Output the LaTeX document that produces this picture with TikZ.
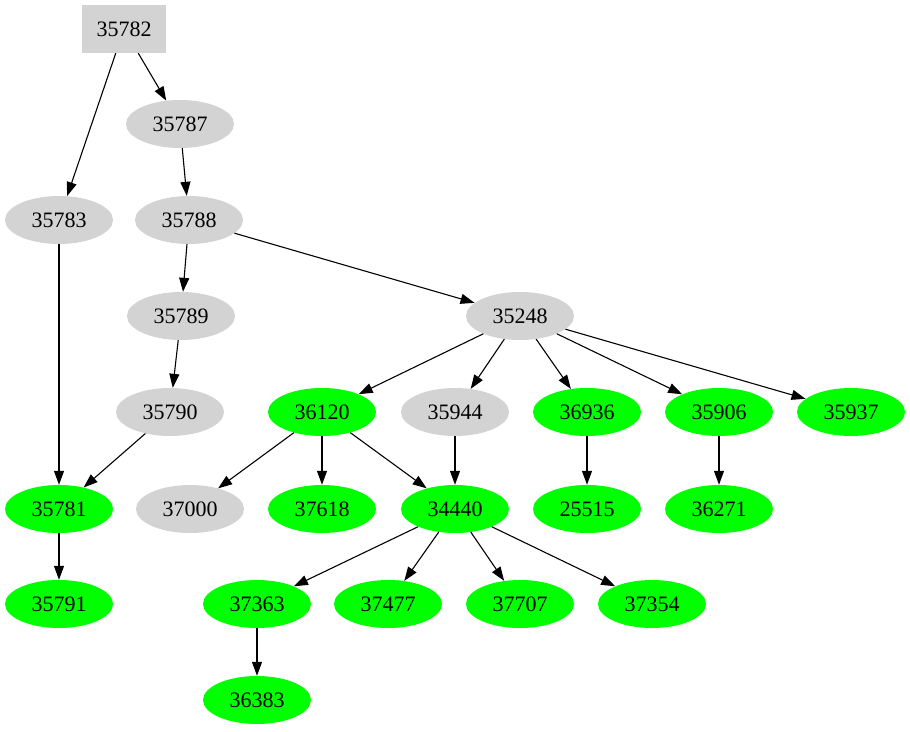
\documentclass[tikz,border=0pt]{standalone}
\usepackage{fontspec}
\setmainfont{Liberation Serif}
\usetikzlibrary{arrows.meta,shapes.geometric}
\definecolor{greyfill}{RGB}{211,211,211}
\definecolor{greenfill}{RGB}{0,255,0}

\begin{document}
\begin{tikzpicture}[x=1pt, y=-1pt,
    >={Triangle[length=14pt, width=10pt]},
    every node/.style={font=\fontsize{22}{26}\selectfont, inner sep=0pt},
    greybox/.style={rectangle, fill=greyfill, minimum width=84pt, minimum height=48pt},
    greynode/.style={ellipse, fill=greyfill, minimum width=108pt, minimum height=48pt},
    greennode/.style={ellipse, fill=greenfill, minimum width=108pt, minimum height=48pt},
    edge/.style={->, line width=1.1pt}]

    \useasboundingbox (0,0) rectangle (910,731);

    % Root
    \node[greybox] (n35782) at (124,29) {35782};

    % Left branch
    \node[greynode] (n35787) at (180,124) {35787};
    \node[greynode] (n35783) at (59,220) {35783};
    \node[greynode] (n35788) at (189,220) {35788};
    \node[greynode] (n35789) at (181,316) {35789};
    \node[greynode] (n35790) at (170,412) {35790};
    \node[greennode] (n35781) at (59,509) {35781};
    \node[greennode] (n35791) at (59,604) {35791};

    % Right branch
    \node[greynode] (n35248) at (520,316) {35248};
    \node[greennode] (n36120) at (322,412) {36120};
    \node[greynode] (n35944) at (455,412) {35944};
    \node[greennode] (n36936) at (587,412) {36936};
    \node[greennode] (n35906) at (719,412) {35906};
    \node[greennode] (n35937) at (851,412) {35937};

    \node[greynode] (n37000) at (190,509) {37000};
    \node[greennode] (n37618) at (322,509) {37618};
    \node[greennode] (n34440) at (455,509) {34440};
    \node[greennode] (n25515) at (587,509) {25515};
    \node[greennode] (n36271) at (719,509) {36271};

    \node[greennode] (n37363) at (257,604) {37363};
    \node[greennode] (n37477) at (388,604) {37477};
    \node[greennode] (n37707) at (520,604) {37707};
    \node[greennode] (n37354) at (652,604) {37354};
    \node[greennode] (n36383) at (257,700) {36383};

    % Edges
    \draw[edge] (n35782) -- (n35783);
    \draw[edge] (n35782) -- (n35787);
    \draw[edge] (n35787) -- (n35788);
    \draw[edge] (n35783) -- (n35781);
    \draw[edge] (n35788) -- (n35789);
    \draw[edge] (n35788) -- (n35248);
    \draw[edge] (n35789) -- (n35790);
    \draw[edge] (n35790) -- (n35781);
    \draw[edge] (n35781) -- (n35791);

    \draw[edge] (n35248) -- (n36120);
    \draw[edge] (n35248) -- (n35944);
    \draw[edge] (n35248) -- (n36936);
    \draw[edge] (n35248) -- (n35906);
    \draw[edge] (n35248) -- (n35937);

    \draw[edge] (n36120) -- (n37000);
    \draw[edge] (n36120) -- (n37618);
    \draw[edge] (n36120) -- (n34440);
    \draw[edge] (n35944) -- (n34440);
    \draw[edge] (n36936) -- (n25515);
    \draw[edge] (n35906) -- (n36271);

    \draw[edge] (n34440) -- (n37363);
    \draw[edge] (n34440) -- (n37477);
    \draw[edge] (n34440) -- (n37707);
    \draw[edge] (n34440) -- (n37354);
    \draw[edge] (n37363) -- (n36383);

\end{tikzpicture}
\end{document}
